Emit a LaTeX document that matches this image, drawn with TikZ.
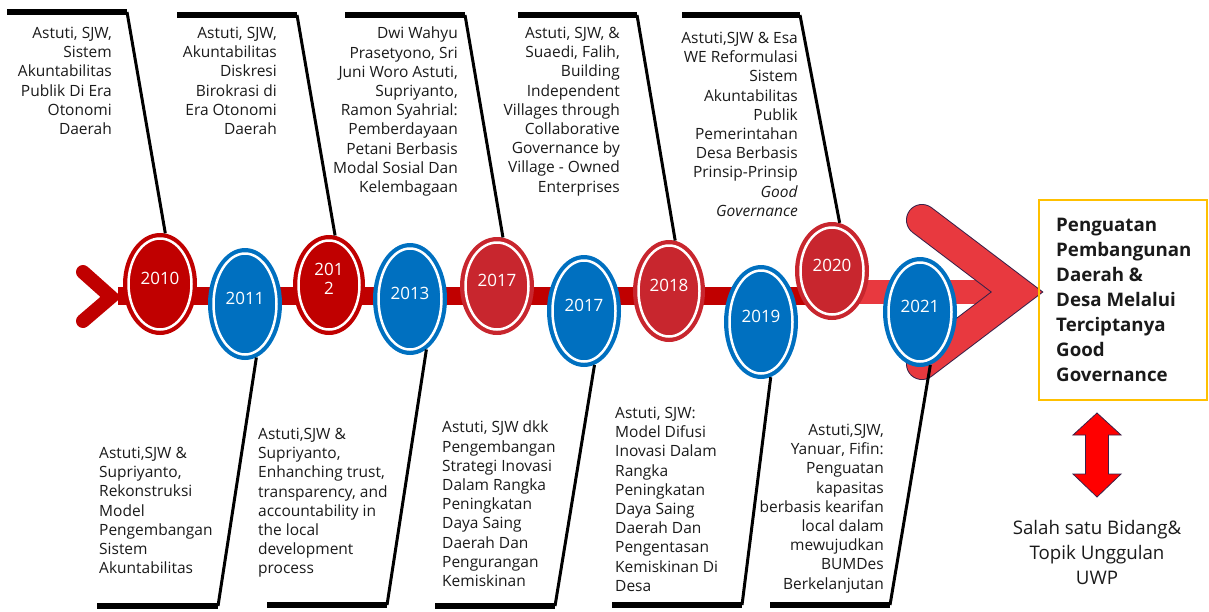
\documentclass[tikz,border=0pt]{standalone}
\usepackage{fontspec}
\setmainfont{Open Sans}
\usetikzlibrary{shapes.geometric,calc}
\definecolor{dred}{HTML}{C00000}
\definecolor{mred}{HTML}{C8262E}
\definecolor{lred}{HTML}{E8393F}
\definecolor{ublue}{HTML}{0070C0}
\definecolor{txt}{HTML}{1A1A1A}
\definecolor{outl}{HTML}{3A2048}
\definecolor{gold}{HTML}{FFC000}
\newcommand\descfont{\fontsize{15.5}{19.2}\selectfont}
\newcommand\yearnode[7]{%
  \node[ellipse, fill=#6, draw=none, inner sep=0pt, minimum width={2*#4pt}, minimum height={2*#5pt}] (#1) at (#2,#3) {};
  \draw[white, line width=2.5pt] (#1.center) ellipse [x radius={#4pt-5.5pt}, y radius={#5pt-5.5pt}];
  \node[yeartext] at ([yshift=6pt]#1.center) {#7};}
\tikzset{
  yeartext/.style={text=white, font=\fontsize{17}{19}\selectfont, inner sep=0pt, align=center},
  descr/.style={text=txt, font=\descfont, inner sep=0pt, align=right, anchor=north east},
  descl/.style={text=txt, font=\descfont, inner sep=0pt, align=left, anchor=north west},
  frameline/.style={black, line width=5.5pt},
  conn/.style={black, line width=3pt},
}
\begin{document}
\begin{tikzpicture}[x=1pt,y=-1pt]
\useasboundingbox (0,0) rectangle (1209,611);
% main bar
\fill[dred] (118,287) rectangle (815,305);
\fill[lred] (805,280) rectangle (1000,304);
% left chevron
\draw[dred, line width=14pt, line cap=round, line join=miter] (83,272) -- (111,297) -- (83,321);
% big chevron
\draw[outl, line width=32pt, line cap=round, line join=miter] (922,220) -- (1017,292) -- (922,364);
\draw[lred, line width=30pt, line cap=round, line join=miter] (922,220) -- (1017,292) -- (922,364);
% frame coordinates
\coordinate (t1a) at (7,12);   \coordinate (t1c) at (127,12);
\coordinate (t2a) at (177,15); \coordinate (t2c) at (297,15);
\coordinate (t3a) at (345,15); \coordinate (t3c) at (465,15);
\coordinate (t4a) at (518,15); \coordinate (t4c) at (637,15);
\coordinate (t5a) at (682,15); \coordinate (t5c) at (800,15);
\coordinate (b1a) at (97,606);  \coordinate (b1c) at (218,606);
\coordinate (b2a) at (267,605); \coordinate (b2c) at (387,605);
\coordinate (b3a) at (435,606); \coordinate (b3c) at (555,606);
\coordinate (b4a) at (612,605); \coordinate (b4c) at (742,605);
\coordinate (b5a) at (770,605); \coordinate (b5c) at (890,605);
\foreach \f in {t1,t2,t3,t4,t5,b1,b2,b3,b4,b5}{\draw[frameline] (\f a) -- (\f c);}
% year ellipses
\yearnode{e2010}{160}{284}{37}{51}{dred}{2010}
\yearnode{e2011}{245}{304}{37}{56}{ublue}{2011}
\yearnode{e2012}{329}{285}{36}{50}{dred}{201\\2}
\yearnode{e2013}{410}{299}{37}{56}{ublue}{2013}
\yearnode{e2017a}{497}{286}{37}{49}{mred}{2017}
\yearnode{e2017b}{584}{311}{37}{56}{ublue}{2017}
\yearnode{e2018}{669}{291}{36}{51}{mred}{2018}
\yearnode{e2019}{761}{322}{37}{57}{ublue}{2019}
\yearnode{e2020}{832}{271}{37}{49}{mred}{2020}
\yearnode{e2021}{920}{312}{37}{55}{ublue}{2021}
% connectors
\draw[conn] (e2010.84) -- (t1c);
\draw[conn] (e2012.83) -- (t2c);
\draw[conn] (e2017a.83) -- (t3c);
\draw[conn] (e2018.83) -- (t4c);
\draw[conn] (e2020.81) -- (t5c);
\draw[conn] (e2011.-78) -- (b1c);
\draw[conn] (e2013.-72) -- (b2c);
\draw[conn] (e2017b.-79) -- (b3c);
\draw[conn] (e2019.-80) -- (b4c);
\draw[conn] (e2021.-79) -- (b5c);
% top texts
\node[descr] (d1) at (112,27) {Astuti, SJW,\\Sistem\\Akuntabilitas\\Publik Di Era\\Otonomi\\Daerah};
\node[descr] (d2) at (277,27) {Astuti, SJW,\\Akuntabilitas\\Diskresi\\Birokrasi di\\Era Otonomi\\Daerah};
\node[descr] (d3) at (458,27) {Dwi Wahyu\\Prasetyono, Sri\\Juni Woro Astuti,\\Supriyanto,\\Ramon Syahrial:\\Pemberdayaan\\Petani Berbasis\\Modal Sosial Dan\\Kelembagaan};
\node[descr] (d4) at (620,27) {Astuti, SJW, \&\\Suaedi, Falih,\\Building\\Independent\\Villages through\\Collaborative\\Governance by\\Village - Owned\\Enterprises};
\node[descr] (d5) at (798,32) {Astuti,SJW \& Esa\\WE Reformulasi\\Sistem\\Akuntabilitas\\Publik\\Pemerintahan\\Desa Berbasis\\Prinsip-Prinsip\\\textit{Good}\\\textit{Governance}};
% bottom texts
\node[descl] (d6) at (99,447) {Astuti,SJW \&\\Supriyanto,\\Rekonstruksi\\Model\\Pengembangan\\Sistem\\Akuntabilitas};
\node[descl] (d7) at (258,428) {Astuti,SJW \&\\Supriyanto,\\Enhanching trust,\\transparency, and\\accountability in\\the local\\development\\process};
\node[descl] (d8) at (442,421) {Astuti, SJW dkk\\Pengembangan\\Strategi Inovasi\\Dalam Rangka\\Peningkatan\\Daya Saing\\Daerah Dan\\Pengurangan\\Kemiskinan};
\node[descl] (d9) at (615,407) {Astuti, SJW:\\Model Difusi\\Inovasi Dalam\\Rangka\\Peningkatan\\Daya Saing\\Daerah Dan\\Pengentasan\\Kemiskinan Di\\Desa};
\node[descr] (d10) at (884,424) {Astuti,SJW,\\Yanuar, Fifin:\\Penguatan\\kapasitas\\berbasis kearifan\\local dalam\\mewujudkan\\BUMDes\\Berkelanjutan};
% goal box
\draw[gold, line width=1.8pt] (1039,200) rectangle (1207,400);
\node[text=txt, font=\fontsize{18.7}{25}\selectfont\bfseries, inner sep=0pt, align=left, anchor=north west] (goal) at (1056,218) {Penguatan\\Pembangunan\\Daerah \&\\Desa Melalui\\Terciptanya\\Good\\Governance};
% double arrow
\coordinate (da) at (1097,455);
\filldraw[fill=red, draw=outl, line width=0.8pt] (1097,413) -- (1121,435) -- (1108.5,435) -- (1108.5,474) -- (1121,474) -- (1097,497) -- (1073,474) -- (1085.5,474) -- (1085.5,435) -- (1073,435) -- cycle;
\node[text=txt, font=\fontsize{18.7}{25}\selectfont, inner sep=0pt, align=center, anchor=north] (topik) at (1097,520) {Salah satu Bidang\&\\Topik Unggulan\\UWP};
\end{tikzpicture}
\end{document}
